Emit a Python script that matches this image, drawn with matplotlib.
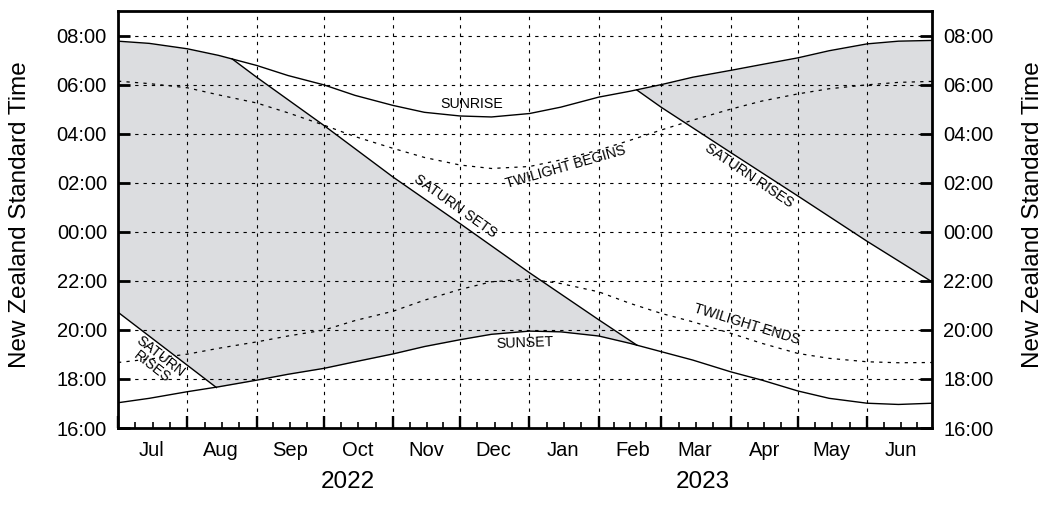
import datetime as dt
import numpy as np
import matplotlib
matplotlib.use("Agg")
import matplotlib.pyplot as plt
import matplotlib.dates as mdates
from matplotlib.ticker import FixedLocator, FuncFormatter
from matplotlib.transforms import blended_transform_factory

D = dt.date

# ---------------------------------------------------------------- data
# Times are in hours of NZST; morning events carry +24 so the night is continuous.
sun_dates = [D(2022, 7, 1), D(2022, 7, 15), D(2022, 8, 1), D(2022, 8, 15),
             D(2022, 9, 1), D(2022, 9, 15), D(2022, 10, 1), D(2022, 10, 15),
             D(2022, 11, 1), D(2022, 11, 15), D(2022, 12, 1), D(2022, 12, 15),
             D(2023, 1, 1), D(2023, 1, 15), D(2023, 2, 1), D(2023, 2, 15),
             D(2023, 3, 1), D(2023, 3, 15), D(2023, 4, 1), D(2023, 4, 15),
             D(2023, 5, 1), D(2023, 5, 15), D(2023, 6, 1), D(2023, 6, 15),
             D(2023, 6, 30)]

sunrise = [31.77, 31.68, 31.46, 31.19, 30.78, 30.37, 29.99, 29.56, 29.15, 28.87,
           28.72, 28.68, 28.82, 29.08, 29.49, 29.73, 30.00, 30.30, 30.58, 30.82,
           31.09, 31.38, 31.66, 31.77, 31.80]

twilight_begins = [30.14, 30.04, 29.87, 29.58, 29.25, 28.85, 28.35, 27.88, 27.40, 27.03,
                   26.72, 26.58, 26.66, 26.93, 27.33, 27.73, 28.15, 28.55, 29.00, 29.33,
                   29.62, 29.83, 29.99, 30.09, 30.13]

sunset = [17.03, 17.21, 17.48, 17.68, 17.95, 18.19, 18.43, 18.70, 19.02, 19.32,
          19.60, 19.82, 19.95, 19.92, 19.75, 19.45, 19.11, 18.77, 18.29, 17.95,
          17.51, 17.21, 17.01, 16.96, 17.01]

twilight_ends = [18.67, 18.81, 19.01, 19.25, 19.51, 19.75, 19.99, 20.38, 20.76, 21.21,
                 21.65, 21.96, 22.07, 21.89, 21.55, 21.08, 20.67, 20.33, 19.86, 19.45,
                 19.04, 18.84, 18.70, 18.66, 18.67]

saturn_sets_dates = [D(2022, 8, 21), D(2022, 9, 1), D(2022, 10, 1), D(2022, 11, 1),
                     D(2022, 12, 1), D(2023, 1, 1), D(2023, 2, 1), D(2023, 2, 18)]
saturn_sets = [31.05, 30.30, 28.34, 26.23, 24.33, 22.33, 20.41, 19.38]

saturn_rises_early_dates = [D(2022, 7, 1), D(2022, 8, 14)]
saturn_rises_early = [20.72, 17.65]

saturn_rises_late_dates = [D(2023, 2, 18), D(2023, 3, 1), D(2023, 4, 1), D(2023, 5, 1),
                           D(2023, 6, 1), D(2023, 6, 30)]
saturn_rises_late = [29.78, 29.07, 27.23, 25.46, 23.61, 21.96]

month_names = ["Jul", "Aug", "Sep", "Oct", "Nov", "Dec",
               "Jan", "Feb", "Mar", "Apr", "May", "Jun"]
month_starts = [D(2022, m, 1) for m in range(7, 13)] + [D(2023, m, 1) for m in range(1, 7)]
year_labels = ["2022", "2023"]
hour_ticks = list(range(16, 33, 2))

# ---------------------------------------------------------------- style
plt.rcParams["font.family"] = ["Liberation Sans", "DejaVu Sans"]
FILL = "#dcdde0"
W, H = 1045, 518

fig = plt.figure(figsize=(W / 100, H / 100), dpi=100)
ax = fig.add_axes([118 / W, 90 / H, 814 / W, 417 / H])

x_start, x_end = D(2022, 7, 1), D(2023, 6, 30)
ax.set_xlim(x_start, x_end)
ax.set_ylim(16, 33)

num = lambda ds: mdates.date2num(np.array(ds, dtype="datetime64[D]"))
xs = num(sun_dates)

# ---------------------------------------------------------------- shading
t = np.linspace(num([x_start])[0], num([x_end])[0], 3000)
t = np.union1d(t, np.concatenate([num(saturn_sets_dates), num(saturn_rises_early_dates),
                                  num(saturn_rises_late_dates)]))
rise_i = np.interp(t, xs, sunrise)
set_i = np.interp(t, xs, sunset)

ss_x = num(saturn_sets_dates)
sat_set_i = np.where(t < ss_x[0], np.inf, np.interp(t, ss_x, saturn_sets))
re_x = num(saturn_rises_early_dates)
sat_rise_e = np.where(t > re_x[-1], -np.inf, np.interp(t, re_x, saturn_rises_early))
upper1 = np.minimum(rise_i, sat_set_i)
lower1 = np.maximum(set_i, sat_rise_e)
m1 = t <= ss_x[-1]
ax.fill_between(t[m1], lower1[m1], upper1[m1], color=FILL, lw=0, zorder=1)

rl_x = num(saturn_rises_late_dates)
m2 = t >= rl_x[0]
sat_rise_l = np.interp(t, rl_x, saturn_rises_late)
ax.fill_between(t[m2], sat_rise_l[m2], rise_i[m2], color=FILL, lw=0, zorder=1)

# ---------------------------------------------------------------- curves
solid = dict(color="black", lw=1.0, zorder=3, solid_joinstyle="round")
dotted = dict(color="black", lw=0.9, ls=(0, (2.6, 4.2)), zorder=3)
ax.plot(xs, sunrise, **solid)
ax.plot(xs, sunset, **solid)
ax.plot(xs, twilight_begins, **dotted)
ax.plot(xs, twilight_ends, **dotted)
ax.plot(ss_x, saturn_sets, **solid)
ax.plot(re_x, saturn_rises_early, **solid)
ax.plot(rl_x, saturn_rises_late, **solid)

# ---------------------------------------------------------------- curve labels
lab = dict(fontsize=10.2, ha="center", va="center", rotation_mode="anchor", zorder=4)
ax.text(D(2022, 12, 6), 29.22, "SUNRISE", rotation=0, **lab)
ax.text(D(2023, 1, 17), 26.64, "TWILIGHT BEGINS", rotation=16, **lab)
ax.text(D(2022, 11, 29), 25.05, "SATURN SETS", rotation=-35.5, **lab)
ax.text(D(2023, 4, 9), 26.30, "SATURN RISES", rotation=-34, **lab)
ax.text(D(2022, 12, 30), 19.45, "SUNSET", rotation=2, **lab)
ax.text(D(2023, 4, 8), 20.23, "TWILIGHT ENDS", rotation=-17, **lab)
ax.text(D(2022, 7, 18), 18.69, "SATURN\nRISES", rotation=-38, linespacing=0.95,
        multialignment="center", **lab)

# ---------------------------------------------------------------- axes
for s in ax.spines.values():
    s.set_linewidth(2.0)

ax.xaxis.set_major_locator(FixedLocator(num(month_starts)))
minor = []
bounds = month_starts + [D(2023, 7, 1)]
for a, b in zip(bounds[:-1], bounds[1:]):
    na, nb = num([a, b])
    minor += [na + k * (nb - na) / 4 for k in (1, 2, 3)]
ax.xaxis.set_minor_locator(FixedLocator(minor))
ax.xaxis.set_major_formatter(FuncFormatter(lambda v, p: ""))
ax.tick_params(axis="x", which="major", direction="in", length=8.6, width=1.7,
               top=False, bottom=True)
ax.tick_params(axis="x", which="minor", direction="in", length=4.3, width=1.2,
               top=False, bottom=True)

ax.yaxis.set_major_locator(FixedLocator(hour_ticks))
ax.yaxis.set_major_formatter(FuncFormatter(lambda v, p: f"{int(round(v)) % 24:02d}:00"))
ax.tick_params(axis="y", which="major", direction="in", length=8.6, width=2.0,
               left=True, right=True, labelleft=True, labelright=True,
               labelsize=14.5, pad=8)

ax.grid(True, which="major", color="black", lw=0.8, ls=(0, (3, 4.5)))

trans = blended_transform_factory(ax.transData, fig.transFigure)
for name, start in zip(month_names, month_starts):
    ax.text(dt.date(start.year, start.month, 16), (H - 456) / H, name,
            transform=trans, ha="center", va="baseline", fontsize=14.5)

fig.text(348 / W, (H - 482) / H, year_labels[0], ha="center", va="center", fontsize=17.5)
fig.text(703 / W, (H - 482) / H, year_labels[1], ha="center", va="center", fontsize=17.5)

ylab = "New Zealand Standard Time"
fig.text(20 / W, (H - 215) / H, ylab, rotation=90, ha="center", va="center", fontsize=17.5)
fig.text(1033 / W, (H - 215) / H, ylab, rotation=90, ha="center", va="center", fontsize=17.5)

fig.savefig("out.png", dpi=100)
